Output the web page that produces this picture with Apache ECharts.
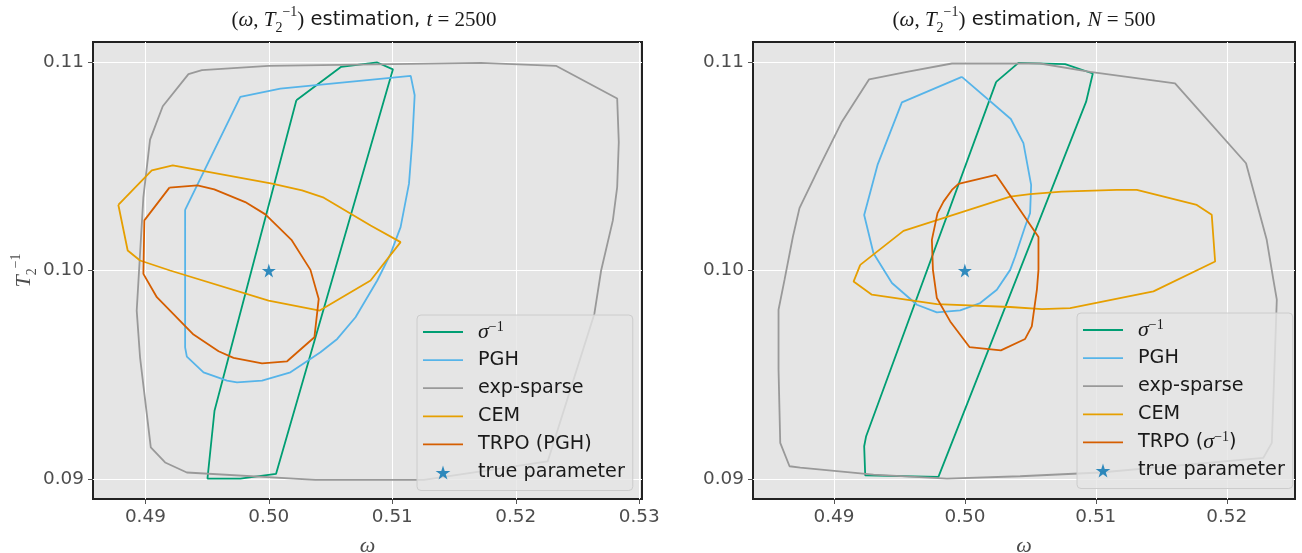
<!DOCTYPE html>
<html>
<head>
<meta charset="utf-8">
<script src="https://cdn.jsdelivr.net/npm/echarts@6/dist/echarts.min.js"></script>
<style>
  html, body { margin: 0; padding: 0; background: #fff; }
  #chart { width: 1302px; height: 553px; }
</style>
</head>
<body>
<div id="chart"></div>
<script>
// ---- left panel: t = 2500 ----
const sigmaL = [[0.50223, 0.10816], [0.50586, 0.10976], [0.50878, 0.10997], [0.51005, 0.10964], [0.50058, 0.09025], [0.49769, 0.09003], [0.49503, 0.09003], [0.4956, 0.09328]]
const pghL = [[0.49322, 0.10291], [0.49769, 0.10832], [0.50093, 0.10872], [0.51149, 0.10933], [0.51181, 0.10840], [0.51162, 0.10624], [0.51135, 0.10416], [0.51067, 0.10208], [0.50986, 0.10080], [0.50878, 0.09952], [0.50702, 0.09776], [0.50554, 0.09672], [0.50418, 0.09608], [0.50175, 0.09512], [0.49945, 0.09472], [0.49742, 0.09464], [0.49661, 0.09472], [0.49471, 0.09512], [0.49336, 0.09587], [0.49322, 0.09632]]
const expL = [[0.51717, 0.10995], [0.52325, 0.10981], [0.52821, 0.10824], [0.52834, 0.10616], [0.52821, 0.10400], [0.52786, 0.10240], [0.52691, 0.10000], [0.52636, 0.09792], [0.52258, 0.09085], [0.51256, 0.08997], [0.50377, 0.08997], [0.49336, 0.09032], [0.4916, 0.09080], [0.49044, 0.09152], [0.48957, 0.09584], [0.4893, 0.09808], [0.48984, 0.10352], [0.49038, 0.10627], [0.49141, 0.10787], [0.49349, 0.10941], [0.49458, 0.10960], [0.49998, 0.10981]]
const cemL = [[0.48781, 0.10315], [0.49052, 0.10480], [0.49222, 0.10504], [0.50026, 0.10416], [0.50269, 0.10384], [0.50445, 0.10349], [0.50824, 0.10216], [0.51067, 0.10136], [0.50824, 0.09952], [0.50412, 0.09808], [0.49998, 0.09856], [0.492, 0.10000], [0.48957, 0.10048], [0.48857, 0.10096]]
const trpoL = [[0.49195, 0.10397], [0.49422, 0.10408], [0.49558, 0.10389], [0.49809, 0.10328], [0.49972, 0.10269], [0.50183, 0.10147], [0.50337, 0.10003], [0.50404, 0.09864], [0.50369, 0.09680], [0.50148, 0.09565], [0.49945, 0.09555], [0.49714, 0.09581], [0.49593, 0.09613], [0.4939, 0.09693], [0.49093, 0.09872], [0.48984, 0.09984], [0.48992, 0.10240]]

// ---- right panel: N = 500 ----
const sigmaR = [[0.50239, 0.10904], [0.50409, 0.10995], [0.50766, 0.10989], [0.50977, 0.10944], [0.50926, 0.10809], [0.49798, 0.09011], [0.49239, 0.09018], [0.49231, 0.09158], [0.49246, 0.09206]]
const pghR = [[0.49977, 0.10928], [0.50351, 0.10726], [0.50447, 0.10610], [0.50506, 0.10410], [0.50498, 0.10275], [0.5046, 0.10211], [0.50384, 0.10067], [0.50346, 0.10003], [0.50244, 0.09908], [0.50117, 0.09844], [0.49964, 0.09809], [0.49786, 0.09799], [0.49634, 0.09836], [0.49443, 0.09940], [0.49302, 0.10083], [0.49231, 0.10266], [0.49333, 0.10506], [0.49519, 0.10806]]
const expR = [[0.50409, 0.10992], [0.49901, 0.10992], [0.49557, 0.10952], [0.49269, 0.10916], [0.49061, 0.10713], [0.4889, 0.10498], [0.48737, 0.10299], [0.48687, 0.10163], [0.48623, 0.09956], [0.48577, 0.09812], [0.48577, 0.09525], [0.4859, 0.09174], [0.48661, 0.09062], [0.48743, 0.09055], [0.49302, 0.09022], [0.49863, 0.09003], [0.50422, 0.09014], [0.51033, 0.09032], [0.52279, 0.09102], [0.52344, 0.09174], [0.52382, 0.09860], [0.52356, 0.09955], [0.52305, 0.10147], [0.52147, 0.10514], [0.51605, 0.10897], [0.50956, 0.10952], [0.50575, 0.10992]]
const cemR = [[0.49201, 0.10027], [0.49531, 0.10190], [0.50346, 0.10354], [0.50498, 0.10366], [0.5074, 0.10378], [0.5116, 0.10386], [0.51313, 0.10386], [0.51771, 0.10314], [0.51885, 0.10267], [0.51911, 0.10043], [0.5144, 0.09900], [0.50804, 0.09820], [0.50588, 0.09815], [0.50346, 0.09825], [0.49786, 0.09839], [0.4929, 0.09884], [0.4915, 0.09947]]
const trpoR = [[0.50239, 0.10458], [0.49951, 0.10415], [0.49901, 0.10386], [0.49837, 0.10330], [0.49791, 0.10275], [0.49748, 0.10147], [0.49756, 0.10003], [0.49786, 0.09868], [0.49888, 0.09756], [0.50035, 0.09633], [0.50275, 0.09617], [0.5046, 0.09672], [0.50511, 0.09732], [0.5055, 0.09908], [0.50562, 0.10003], [0.50562, 0.10160]]

const truePoint = [[0.5, 0.1]]

const xTicksL = [0.49, 0.50, 0.51, 0.52, 0.53]
const xTicksR = [0.49, 0.50, 0.51, 0.52]
const yTicks = [0.09, 0.10, 0.11]

const colors = {
  sigma: '#009E73',
  pgh: '#56B4E9',
  exp: '#999999',
  cem: '#E69F00',
  trpo: '#D55E00',
  star: '#0072B2'
}

const STAR = 'path://M50,0L61,35L98,35L68,57L79,91L50,70L21,91L32,57L2,35L39,35Z'
const LINE_ICON = 'path://M0,0H40V1.8H0Z'
const SERIF = 'Liberation Serif'
const SANS = 'DejaVu Sans'

function closed(pts) {
  return pts.concat([pts[0]])
}

function contour(name, pts, color, idx) {
  return {
    name: name,
    type: 'line',
    xAxisIndex: idx,
    yAxisIndex: idx,
    data: closed(pts),
    symbol: 'none',
    smooth: false,
    lineStyle: { width: 1.8, color: color },
    itemStyle: { color: color },
    silent: true
  }
}

function xAxis(idx, min, max, ticks) {
  return {
    type: 'value',
    gridIndex: idx,
    min: min,
    max: max,
    name: '{i|ω}',
    nameLocation: 'middle',
    nameGap: 36,
    nameTextStyle: {
      color: '#4d4d4d',
      rich: { i: { fontFamily: SERIF, fontStyle: 'italic', fontSize: 22, color: '#4d4d4d' } }
    },
    axisLine: { show: false },
    axisTick: { show: true, length: 5, lineStyle: { color: '#555', width: 1 }, customValues: ticks },
    axisLabel: {
      customValues: ticks,
      formatter: v => v.toFixed(2),
      fontFamily: SANS, fontSize: 18.4, color: '#4d4d4d', margin: 9
    },
    splitLine: { show: true, lineStyle: { color: '#ffffff', width: 1 } }
  }
}

function yAxis(idx, withName) {
  return {
    type: 'value',
    gridIndex: idx,
    min: 0.08905,
    max: 0.11095,
    name: withName ? '{i|T}{sub|2}{sup|−1}' : '',
    nameLocation: 'middle',
    nameRotate: 90,
    nameGap: 52,
    nameTextStyle: {
      color: '#4d4d4d',
      lineHeight: 30,
      rich: {
        i: { fontFamily: SERIF, fontStyle: 'italic', fontSize: 22, color: '#4d4d4d', lineHeight: 30 },
        sub: { fontFamily: SERIF, fontSize: 14, color: '#4d4d4d', verticalAlign: 'bottom', lineHeight: 15 },
        sup: { fontFamily: SERIF, fontSize: 14, color: '#4d4d4d', verticalAlign: 'top', lineHeight: 15 }
      }
    },
    axisLine: { show: false },
    axisTick: { show: true, length: 5, lineStyle: { color: '#555', width: 1 }, customValues: yTicks },
    axisLabel: {
      customValues: yTicks,
      formatter: v => v.toFixed(2),
      fontFamily: SANS, fontSize: 18.4, color: '#4d4d4d', margin: 9
    },
    splitLine: { show: true, lineStyle: { color: '#ffffff', width: 1 } }
  }
}

function legendName(name) {
  if (name === 'sigma^-1') return '{i|σ}{sup|−1}'
  if (name === 'TRPO (sigma^-1)') return 'TRPO ({i|σ}{sup|−1})'
  return name
}

function legend(left, top, names) {
  return {
    orient: 'vertical',
    left: left,
    top: top,
    itemWidth: 40,
    itemHeight: 14,
    itemGap: 4.1,
    padding: [5, 8, 6, 6],
    backgroundColor: 'rgba(229,229,229,0.8)',
    borderColor: '#cccccc',
    borderWidth: 1,
    borderRadius: 4,
    selectedMode: false,
    formatter: legendName,
    textStyle: {
      fontFamily: SANS, fontSize: 19.2, color: '#1a1a1a', lineHeight: 24,
      padding: [0, 0, 0, 10],
      rich: {
        i: { fontFamily: SERIF, fontStyle: 'italic', fontSize: 22, color: '#1a1a1a', lineHeight: 24 },
        sup: { fontFamily: SERIF, fontSize: 14, color: '#1a1a1a', verticalAlign: 'top', lineHeight: 9 }
      }
    },
    data: names.map(n => ({ name: n, icon: n === 'true parameter' ? STAR : LINE_ICON }))
  }
}

const titleRich = {
  r: { fontFamily: SERIF, fontSize: 21, fill: '#1a1a1a', lineHeight: 30 },
  i: { fontFamily: SERIF, fontStyle: 'italic', fontSize: 21, fill: '#1a1a1a', lineHeight: 30 },
  sub: { fontFamily: SERIF, fontSize: 14, fill: '#1a1a1a', verticalAlign: 'bottom', lineHeight: 15 },
  sup: { fontFamily: SERIF, fontSize: 14, fill: '#1a1a1a', verticalAlign: 'top', lineHeight: 15 }
}

function titleText(x, tail) {
  return {
    type: 'text',
    x: x,
    y: 20,
    silent: true,
    style: {
      text: '{r|(}{i|ω}{r|, }{i|T}{sub|2}{sup|−1}{r|)} estimation, ' + tail,
      fontFamily: SANS,
      fontSize: 19.5,
      lineHeight: 30,
      fill: '#1a1a1a',
      align: 'center',
      verticalAlign: 'middle',
      rich: titleRich
    }
  }
}

const chart = echarts.init(document.getElementById('chart'), null, { renderer: 'canvas' })

const option = {
  animation: false,
  backgroundColor: '#ffffff',
  textStyle: { fontFamily: SANS },
  grid: [
    { left: 93, top: 42, width: 549, height: 457, outerBoundsMode: 'none', containLabel: false, show: true, backgroundColor: '#e5e5e5', borderColor: '#222222', borderWidth: 2 },
    { left: 753, top: 42, width: 542, height: 457, outerBoundsMode: 'none', containLabel: false, show: true, backgroundColor: '#e5e5e5', borderColor: '#222222', borderWidth: 2 }
  ],
  xAxis: [
    xAxis(0, 0.48576, 0.53022, xTicksL),
    xAxis(1, 0.48382, 0.52521, xTicksR)
  ],
  yAxis: [yAxis(0, true), yAxis(1, false)],
  legend: [
    legend(417, 315, ['sigma^-1', 'PGH', 'exp-sparse', 'CEM', 'TRPO (PGH)', 'true parameter']),
    legend(1077, 313, ['sigma^-1', 'PGH', 'exp-sparse', 'CEM', 'TRPO (sigma^-1)', 'true parameter'])
  ],
  graphic: [
    titleText(364, '{i|t}{r| = 2500}'),
    titleText(1024, '{i|N}{r| = 500}')
  ],
  series: [
    contour('sigma^-1', sigmaL, colors.sigma, 0),
    contour('PGH', pghL, colors.pgh, 0),
    contour('exp-sparse', expL, colors.exp, 0),
    contour('CEM', cemL, colors.cem, 0),
    contour('TRPO (PGH)', trpoL, colors.trpo, 0),
    {
      name: 'true parameter', type: 'scatter', xAxisIndex: 0, yAxisIndex: 0,
      data: truePoint, symbol: STAR, symbolSize: 14, itemStyle: { color: colors.star }, z: 5
    },
    contour('sigma^-1', sigmaR, colors.sigma, 1),
    contour('PGH', pghR, colors.pgh, 1),
    contour('exp-sparse', expR, colors.exp, 1),
    contour('CEM', cemR, colors.cem, 1),
    contour('TRPO (sigma^-1)', trpoR, colors.trpo, 1),
    {
      name: 'true parameter', type: 'scatter', xAxisIndex: 1, yAxisIndex: 1,
      data: truePoint, symbol: STAR, symbolSize: 14, itemStyle: { color: colors.star }, z: 5
    }
  ]
}

chart.setOption(option)
</script>
</body>
</html>
